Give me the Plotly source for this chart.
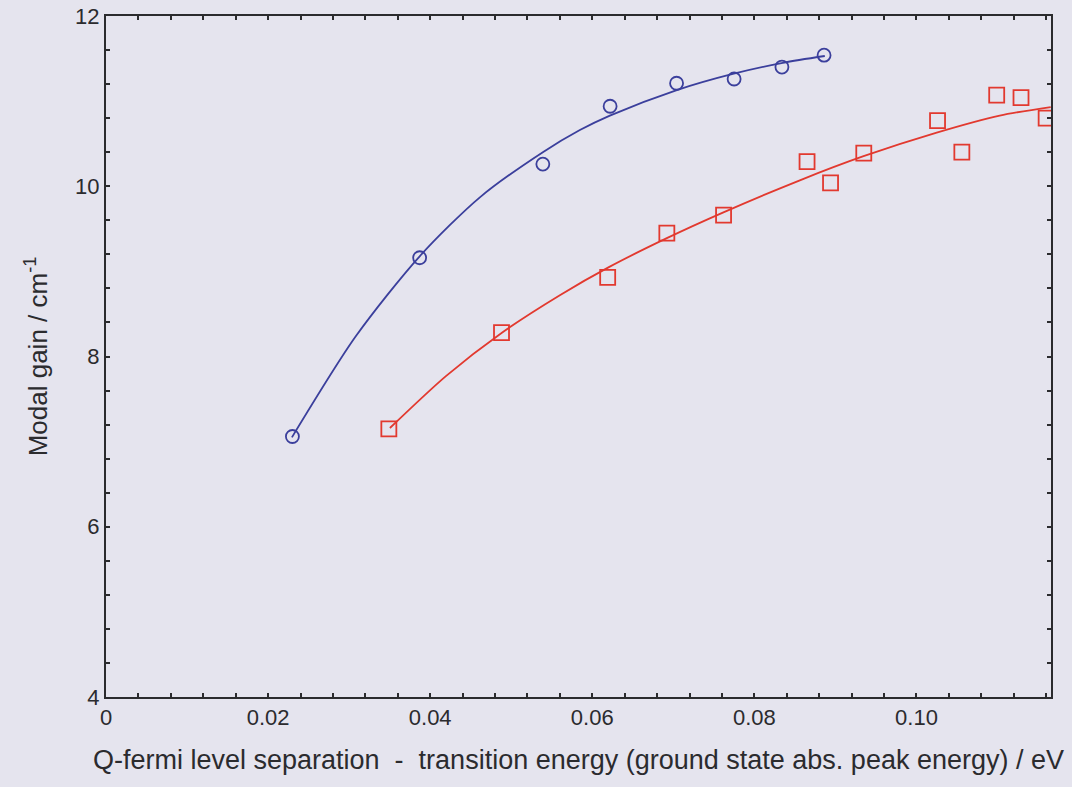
import plotly.graph_objects as go

# Measured modal gain (circles: high performance QD; squares: comparison sample)
circle_x = [0.0230, 0.0387, 0.0539, 0.0622, 0.0704, 0.0775, 0.0834, 0.0886]
circle_gain = [7.06, 9.16, 10.26, 10.94, 11.21, 11.26, 11.40, 11.54]

square_x = [0.0349, 0.0488, 0.0619, 0.0692, 0.0762, 0.0865, 0.0894, 0.0935,
            0.1026, 0.1056, 0.1099, 0.1129, 0.1160]
square_gain = [7.15, 8.28, 8.93, 9.45, 9.66, 10.29, 10.04, 10.39,
               10.77, 10.40, 11.07, 11.04, 10.80]

# Fitted trend lines through each data set
circle_fit_x = [0.02294, 0.03084, 0.03873, 0.04613, 0.05390, 0.05847,
                0.06217, 0.07043, 0.07734, 0.08351, 0.08869]
circle_fit_gain = [7.05, 8.24, 9.18, 9.87, 10.40, 10.66,
                   10.83, 11.13, 11.32, 11.45, 11.53]

square_fit_x = [0.03503, 0.04194, 0.04885, 0.05600, 0.06205, 0.06920,
                0.07611, 0.08561, 0.09338, 0.10250, 0.11027, 0.11657]
square_fit_gain = [7.16, 7.77, 8.28, 8.72, 9.05, 9.39,
                   9.69, 10.07, 10.35, 10.63, 10.83, 10.93]

x_tick_vals = [0, 0.02, 0.04, 0.06, 0.08, 0.10]
x_tick_text = ["0", "0.02", "0.04", "0.06", "0.08", "0.10"]
y_tick_vals = [4, 6, 8, 10, 12]

BLUE = "#3b3f9c"
RED = "#e2392f"
INK = "#2b2b2e"
PAPER = "#e5e4ee"
FONT = "Liberation Sans, Arial, sans-serif"

fig = go.Figure()

fig.add_trace(go.Scatter(x=circle_fit_x, y=circle_fit_gain, mode="lines",
                         line=dict(color=BLUE, width=1.8, shape="spline", smoothing=0.8),
                         hoverinfo="skip", showlegend=False))
fig.add_trace(go.Scatter(x=square_fit_x, y=square_fit_gain, mode="lines",
                         line=dict(color=RED, width=1.8, shape="spline", smoothing=0.8),
                         hoverinfo="skip", showlegend=False))
fig.add_trace(go.Scatter(x=circle_x, y=circle_gain, mode="markers",
                         marker=dict(symbol="circle-open", size=13, color=BLUE,
                                     line=dict(width=1.8, color=BLUE)),
                         showlegend=False))
fig.add_trace(go.Scatter(x=square_x, y=square_gain, mode="markers",
                         marker=dict(symbol="square-open", size=15, color=RED,
                                     line=dict(width=1.8, color=RED)),
                         showlegend=False))

axis_common = dict(
    showline=True, linecolor=INK, linewidth=2, mirror="allticks",
    ticks="inside", ticklen=4, tickwidth=1.5, tickcolor=INK,
    showgrid=False, zeroline=False, automargin=False,
    tickfont=dict(family=FONT, size=22, color=INK),
)

fig.update_xaxes(
    range=[0, 0.1166], tickmode="array", tickvals=x_tick_vals, ticktext=x_tick_text,
    minor=dict(dtick=0.004, tick0=0, ticks="inside", ticklen=4, tickcolor=INK, tickwidth=1.5),
    title=dict(text="Q-fermi level separation\u00a0\u00a0-\u00a0\u00a0transition energy "
                    "(ground state abs. peak energy) / eV",
               font=dict(family=FONT, size=27, color=INK),
               standoff=21),
    **axis_common,
)
fig.update_yaxes(
    range=[4, 12], tickmode="array", tickvals=y_tick_vals,
    minor=dict(dtick=0.4, tick0=4, ticks="inside", ticklen=4, tickcolor=INK, tickwidth=1.5),
    title=dict(text="Modal gain / cm<sup>-1</sup>",
               font=dict(family=FONT, size=26, color=INK),
               standoff=20),
    **axis_common,
)

fig.update_layout(
    width=1072, height=787,
    margin=dict(l=106, r=21, t=16, b=90),
    paper_bgcolor=PAPER, plot_bgcolor=PAPER,
    showlegend=False,
)

fig.write_html("out.html")
